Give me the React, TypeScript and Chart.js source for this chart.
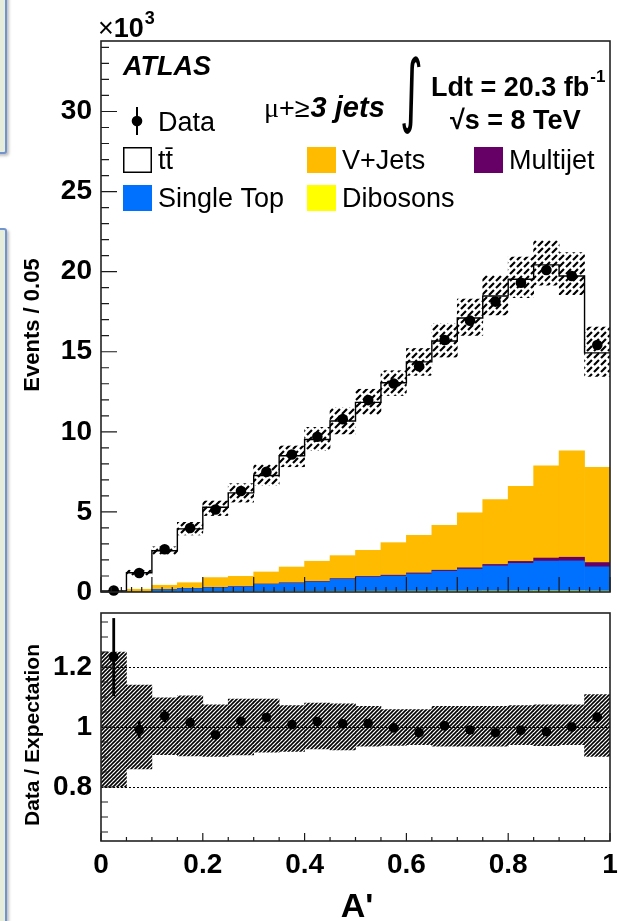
import React, { useEffect, useRef } from 'react';
import { Chart, registerables } from 'chart.js';

Chart.register(...registerables);

// ---- A' binning (20 bins of width 0.05) ----
const BIN_WIDTH = 0.05;
const binCenters = [
  0.025, 0.075, 0.125, 0.175, 0.225, 0.275, 0.325, 0.375, 0.425, 0.475,
  0.525, 0.575, 0.625, 0.675, 0.725, 0.775, 0.825, 0.875, 0.925, 0.975,
];

// ---- Events per bin, in units of 10^3 ----
const dataEvents = [
  0.09, 1.19, 2.67, 4.0, 5.15, 6.31, 7.5, 8.58, 9.69, 10.79,
  11.98, 13.02, 14.1, 15.73, 16.94, 18.13, 19.31, 20.1, 19.73, 15.42,
];
const dataStatErr = [
  0.0095, 0.035, 0.052, 0.063, 0.072, 0.079, 0.087, 0.093, 0.098, 0.104,
  0.109, 0.114, 0.119, 0.125, 0.13, 0.135, 0.139, 0.142, 0.14, 0.124,
];
const ttbar = [
  0.053, 1.03, 2.155, 3.36, 4.39, 5.21, 6.02, 6.95, 7.6, 8.41,
  9.24, 9.98, 10.83, 11.5, 12.17, 12.71, 12.93, 12.55, 10.92, 7.14,
];
const vJets = [
  0.008, 0.125, 0.26, 0.355, 0.615, 0.64, 0.75, 0.985, 1.26, 1.435,
  1.63, 2.03, 2.35, 2.81, 3.43, 4.05, 4.69, 5.755, 6.64, 5.95,
];
const multijet = [
  0.002, 0.005, 0.01, 0.015, 0.015, 0.02, 0.02, 0.025, 0.03, 0.035,
  0.04, 0.05, 0.06, 0.06, 0.08, 0.09, 0.12, 0.19, 0.23, 0.27,
];
const singleTop = [
  0.007, 0.03, 0.135, 0.19, 0.25, 0.295, 0.45, 0.515, 0.59, 0.755,
  0.88, 0.95, 1.075, 1.24, 1.37, 1.565, 1.725, 1.86, 1.87, 1.51,
];
const dibosons = [
  0.003, 0.01, 0.015, 0.02, 0.02, 0.025, 0.03, 0.035, 0.04, 0.045,
  0.05, 0.05, 0.055, 0.06, 0.06, 0.065, 0.065, 0.07, 0.07, 0.06,
];

// ---- Relative systematic uncertainty on the expectation ----
const systUp = [
  0.25, 0.14, 0.097, 0.104, 0.074, 0.093, 0.093, 0.071, 0.08, 0.077,
  0.069, 0.058, 0.058, 0.069, 0.069, 0.069, 0.071, 0.074, 0.074, 0.108,
];
const systDown = [
  0.2, 0.14, 0.092, 0.096, 0.098, 0.093, 0.084, 0.081, 0.073, 0.076,
  0.064, 0.061, 0.059, 0.064, 0.064, 0.064, 0.059, 0.062, 0.059, 0.098,
];

// ---- Tick labels ----
const eventsTicks = [0, 5, 10, 15, 20, 25, 30];
const ratioTicks = [0.8, 1, 1.2];
const aTicks = [0, 0.2, 0.4, 0.6, 0.8, 1];
const ratioRefLines = [0.8, 1, 1.2];

// ---- Layout ----
const W = 619;
const H = 921;
const FRAME_LEFT = 101;
const FRAME_RIGHT = 610;
const TOP_PANEL = { top: 41, bottom: 592, min: 0, max: 34.4 };
const RATIO_PANEL = { top: 613, bottom: 841, min: 0.62, max: 1.38 };

const SANS = '"Liberation Sans", Arial, Helvetica, sans-serif';
const SERIF = '"Liberation Serif", "Times New Roman", serif';

const COLORS = {
  dibosons: '#ffff00',
  singleTop: '#0070ff',
  multijet: '#660066',
  vJets: '#ffbb00',
  ttbar: '#ffffff',
};

const TTBAR_LABEL = 't\u0074\u0304';

// stacked bottom to top
const samples = [
  { label: 'Dibosons', values: dibosons, color: COLORS.dibosons },
  { label: 'Single Top', values: singleTop, color: COLORS.singleTop },
  { label: 'Multijet', values: multijet, color: COLORS.multijet },
  { label: 'V+Jets', values: vJets, color: COLORS.vJets },
  { label: TTBAR_LABEL, values: ttbar, color: COLORS.ttbar },
];

const expected = binCenters.map((_, i) => samples.reduce((s, p) => s + p.values[i], 0));
const ratio = dataEvents.map((d, i) => d / expected[i]);
const ratioErr = dataStatErr.map((e, i) => e / expected[i]);

// legend slots inside the upper panel
const legendSlots = [
  { label: TTBAR_LABEL, x: 123, y: 147 },
  { label: 'V+Jets', x: 307, y: 147 },
  { label: 'Multijet', x: 474, y: 147 },
  { label: 'Single Top', x: 123, y: 185 },
  { label: 'Dibosons', x: 307, y: 185 },
];

function makeHatch(period: number, lines: number, width: number, dash?: number[]) {
  const c = document.createElement('canvas');
  c.width = period;
  c.height = period;
  const g = c.getContext('2d')!;
  g.strokeStyle = '#000';
  g.lineWidth = width;
  if (dash) g.setLineDash(dash);
  const step = period / lines;
  for (let k = -lines; k <= 2 * lines; k++) {
    const c0 = k * step;
    g.beginPath();
    g.moveTo(c0 - period - 1, period + 1);
    g.lineTo(c0 + 1, -1);
    g.stroke();
  }
  return g.createPattern(c, 'repeat')!;
}

type TickSpec = { major: number; minor: number; majorLen: number; minorLen: number };

function frameTicks(xs: TickSpec, ys: TickSpec) {
  return {
    id: 'frameTicks',
    afterDraw(chart: any) {
      const { ctx, chartArea: a } = chart;
      const x = chart.scales.x;
      const y = chart.scales.y;
      const marks = (min: number, max: number, s: TickSpec, draw: (v: number, len: number) => void) => {
        const i0 = Math.ceil(min / s.minor - 1e-6);
        const i1 = Math.floor(max / s.minor + 1e-6);
        for (let i = i0; i <= i1; i++) {
          const v = i * s.minor;
          const r = v / s.major;
          draw(v, Math.abs(r - Math.round(r)) < 1e-6 ? s.majorLen : s.minorLen);
        }
      };
      ctx.save();
      ctx.strokeStyle = '#1a1a1a';
      ctx.lineWidth = 1.2;
      ctx.beginPath();
      marks(x.min, x.max, xs, (v, len) => {
        const px = x.getPixelForValue(v);
        ctx.moveTo(px, a.bottom);
        ctx.lineTo(px, a.bottom - len);
      });
      marks(y.min, y.max, ys, (v, len) => {
        const py = y.getPixelForValue(v);
        ctx.moveTo(a.left, py);
        ctx.lineTo(a.left + len, py);
      });
      ctx.stroke();
      ctx.lineWidth = 1.6;
      ctx.strokeStyle = '#222';
      ctx.strokeRect(a.left, a.top, a.right - a.left, a.bottom - a.top);
      ctx.restore();
    },
  };
}

function errorBars(datasetIndex: number, errs: number[], width: number) {
  return {
    id: 'errorBars',
    afterDatasetsDraw(chart: any) {
      const meta = chart.getDatasetMeta(datasetIndex);
      const y = chart.scales.y;
      const pts = chart.data.datasets[datasetIndex].data;
      const ctx = chart.ctx;
      ctx.save();
      ctx.strokeStyle = '#000';
      ctx.lineWidth = width;
      meta.data.forEach((el: any, i: number) => {
        const v = pts[i].y;
        ctx.beginPath();
        ctx.moveTo(el.x, y.getPixelForValue(v - errs[i]));
        ctx.lineTo(el.x, y.getPixelForValue(v + errs[i]));
        ctx.stroke();
      });
      ctx.restore();
    },
  };
}

function refLines(values: number[]) {
  return {
    id: 'refLines',
    beforeDatasetsDraw(chart: any) {
      const { ctx, chartArea: a } = chart;
      const y = chart.scales.y;
      ctx.save();
      ctx.strokeStyle = '#000';
      ctx.lineWidth = 1;
      ctx.setLineDash([2, 2]);
      values.forEach((v) => {
        const py = Math.round(y.getPixelForValue(v)) + 0.5;
        ctx.beginPath();
        ctx.moveTo(a.left, py);
        ctx.lineTo(a.right, py);
        ctx.stroke();
      });
      ctx.restore();
    },
  };
}

function drawRotated(ctx: CanvasRenderingContext2D, text: string, cx: number, cy: number, font: string) {
  ctx.save();
  ctx.translate(cx, cy);
  ctx.rotate(-Math.PI / 2);
  ctx.font = font;
  ctx.textAlign = 'center';
  ctx.textBaseline = 'middle';
  ctx.fillText(text, 0, 0);
  ctx.restore();
}

const upperAnnotations = {
  id: 'upperAnnotations',
  afterDraw(chart: any) {
    const ctx: CanvasRenderingContext2D = chart.ctx;
    ctx.save();
    ctx.fillStyle = '#000';
    ctx.textBaseline = 'alphabetic';
    ctx.textAlign = 'left';
    const put = (txt: string, x: number, y: number, font: string) => {
      ctx.font = font;
      ctx.fillText(txt, x, y);
      return ctx.measureText(txt).width;
    };

    // axis multiplier
    let x0 = 98;
    x0 += put('\u00d7', x0, 37, `27px ${SANS}`);
    x0 += put('10', x0, 37, `bold 27px ${SANS}`);
    put('3', x0 + 1, 24, `bold 18px ${SANS}`);

    put('ATLAS', 123, 75, `italic bold 27px ${SANS}`);

    // data legend entry
    ctx.strokeStyle = '#000';
    ctx.lineWidth = 2;
    ctx.beginPath();
    ctx.moveTo(137, 107);
    ctx.lineTo(137, 135);
    ctx.stroke();
    ctx.beginPath();
    ctx.arc(137, 121, 5.3, 0, Math.PI * 2);
    ctx.fill();
    put('Data', 158, 131, `27px ${SANS}`);

    // channel label
    let cx = 264;
    cx += put('\u03bc', cx, 117, `28px ${SERIF}`);
    cx += put('+\u2265', cx, 117, `27px ${SANS}`);
    put('3 jets', cx + 1, 117, `italic bold 29px ${SANS}`);

    // integral sign fitted into its box
    ctx.font = `80px "DejaVu Sans", ${SANS}`;
    const m = ctx.measureText('\u222b');
    const gw = m.actualBoundingBoxLeft + m.actualBoundingBoxRight;
    const gh = m.actualBoundingBoxAscent + m.actualBoundingBoxDescent;
    ctx.save();
    ctx.translate(402, 56);
    ctx.scale(19 / gw, 78 / gh);
    ctx.fillText('\u222b', m.actualBoundingBoxLeft, m.actualBoundingBoxAscent);
    ctx.restore();

    const lw = put('Ldt = 20.3 fb', 431, 96, `bold 27px ${SANS}`);
    put('-1', 431 + lw + 1, 82, `bold 17px ${SANS}`);
    put('\u221as = 8 TeV', 450, 129, `bold 27px ${SANS}`);

    // sample legend
    legendSlots.forEach((slot) => {
      const s = samples.find((p) => p.label === slot.label)!;
      ctx.fillStyle = s.color;
      ctx.fillRect(slot.x, slot.y, 29, 26);
      if (s.color === COLORS.ttbar) {
        ctx.strokeStyle = '#000';
        ctx.lineWidth = 1.5;
        ctx.strokeRect(slot.x + 0.75, slot.y + 0.75, 27.5, 24.5);
      }
      ctx.fillStyle = '#000';
      put(s.label, slot.x + 35, slot.y + 22, `27px ${SANS}`);
    });

    drawRotated(ctx, 'Events / 0.05', 33, 325, `bold 22px ${SANS}`);
    ctx.restore();
  },
};

const ratioAnnotations = {
  id: 'ratioAnnotations',
  afterDraw(chart: any) {
    const ctx: CanvasRenderingContext2D = chart.ctx;
    ctx.save();
    ctx.fillStyle = '#000';
    drawRotated(ctx, 'Data / Expectation', 33, 735, `bold 21px ${SANS}`);
    ctx.font = `bold 34px ${SANS}`;
    ctx.textAlign = 'center';
    ctx.textBaseline = 'alphabetic';
    ctx.fillText("A'", 357, 917);
    ctx.restore();
  },
};

const tickFont = { family: SANS, size: 28, weight: 'bold' as const };

function noPadX(s: any, height: number) {
  s.height = height;
  s.paddingLeft = 0;
  s.paddingRight = 0;
}
function noPadY(s: any) {
  s.width = FRAME_LEFT;
  s.paddingTop = 0;
  s.paddingBottom = 0;
}

export default function App() {
  const upperRef = useRef<HTMLCanvasElement>(null);
  const ratioRef = useRef<HTMLCanvasElement>(null);

  useEffect(() => {
    const upperHatch = makeHatch(7, 1, 2.2, [7, 2.9]);
    const ratioHatch = makeHatch(4, 1, 1.6);

    const lowEdges = binCenters.map((c) => c - BIN_WIDTH / 2);
    const stepPoints = [
      ...lowEdges.map((x, i) => ({ x, y: expected[i] })),
      { x: lowEdges[lowEdges.length - 1] + BIN_WIDTH, y: expected[expected.length - 1] },
    ];

    const barCommon = {
      type: 'bar' as const,
      borderWidth: 0,
      grouped: false,
      barPercentage: 1,
      categoryPercentage: 1,
    };

    const upperDatasets: any[] = [
      ...samples.map((s) => ({
        ...barCommon,
        label: s.label,
        data: s.values.map((v, i) => ({ x: binCenters[i], y: v })),
        backgroundColor: s.color,
        stack: 'mc',
        order: 10,
      })),
      {
        ...barCommon,
        label: 'Uncertainty',
        data: expected.map((t, i) => ({ x: binCenters[i], y: [t * (1 - systDown[i]), t * (1 + systUp[i])] })),
        backgroundColor: upperHatch,
        stack: 'band',
        order: 5,
      },
      {
        type: 'line',
        label: 'Expectation',
        data: stepPoints,
        stepped: 'before',
        borderColor: '#000',
        borderWidth: 1.4,
        pointRadius: 0,
        fill: false,
        stack: 'step',
        order: 3,
      },
      {
        type: 'line',
        label: 'Data',
        data: dataEvents.map((v, i) => ({ x: binCenters[i], y: v })),
        showLine: false,
        pointRadius: 5.3,
        pointBackgroundColor: '#000',
        pointBorderWidth: 0,
        stack: 'data',
        order: 1,
        clip: false,
      },
    ];
    const dataIndex = upperDatasets.length - 1;

    const upper = new Chart(upperRef.current!, {
      type: 'bar',
      data: { datasets: upperDatasets },
      options: {
        responsive: false,
        animation: false,
        devicePixelRatio: 1,
        events: [],
        layout: { padding: { left: 0, right: W - FRAME_RIGHT, top: TOP_PANEL.top, bottom: 0 } },
        plugins: { legend: { display: false }, tooltip: { enabled: false } },
        scales: {
          x: {
            type: 'linear',
            min: 0,
            max: 1,
            offset: false,
            grid: { display: false, drawTicks: false },
            border: { display: false },
            ticks: { display: false },
            afterFit: (s: any) => noPadX(s, H - TOP_PANEL.bottom),
          },
          y: {
            type: 'linear',
            stacked: true,
            min: TOP_PANEL.min,
            max: TOP_PANEL.max,
            grid: { display: false, drawTicks: false },
            border: { display: false },
            afterBuildTicks: (s: any) => {
              s.ticks = eventsTicks.map((value) => ({ value }));
            },
            ticks: { font: tickFont, color: '#000', padding: 9, autoSkip: false, callback: (v: any) => String(v) },
            afterFit: noPadY,
          },
        },
      } as any,
      plugins: [
        errorBars(dataIndex, dataStatErr, 2),
        frameTicks(
          { major: 0.1, minor: 0.02, majorLen: 15, minorLen: 5 },
          { major: 5, minor: 1, majorLen: 16, minorLen: 8 },
        ),
        upperAnnotations,
      ] as any,
    });

    const ratioDatasets: any[] = [
      {
        ...barCommon,
        label: 'Uncertainty',
        data: binCenters.map((x, i) => ({ x, y: [1 - systDown[i], 1 + systUp[i]] })),
        backgroundColor: ratioHatch,
        order: 5,
      },
      {
        type: 'line',
        label: 'Data / Expectation',
        data: ratio.map((r, i) => ({ x: binCenters[i], y: r })),
        showLine: false,
        pointRadius: 4.8,
        pointBackgroundColor: '#000',
        pointBorderWidth: 0,
        order: 1,
        clip: false,
      },
    ];

    const lower = new Chart(ratioRef.current!, {
      type: 'bar',
      data: { datasets: ratioDatasets },
      options: {
        responsive: false,
        animation: false,
        devicePixelRatio: 1,
        events: [],
        layout: { padding: { left: 0, right: W - FRAME_RIGHT, top: RATIO_PANEL.top, bottom: 0 } },
        plugins: { legend: { display: false }, tooltip: { enabled: false } },
        scales: {
          x: {
            type: 'linear',
            min: 0,
            max: 1,
            offset: false,
            grid: { display: false, drawTicks: false },
            border: { display: false },
            afterBuildTicks: (s: any) => {
              s.ticks = aTicks.map((value) => ({ value }));
            },
            ticks: { font: tickFont, color: '#000', padding: 7, autoSkip: false, maxRotation: 0, callback: (v: any) => String(v) },
            afterFit: (s: any) => noPadX(s, H - RATIO_PANEL.bottom),
          },
          y: {
            type: 'linear',
            min: RATIO_PANEL.min,
            max: RATIO_PANEL.max,
            grid: { display: false, drawTicks: false },
            border: { display: false },
            afterBuildTicks: (s: any) => {
              s.ticks = ratioTicks.map((value) => ({ value }));
            },
            ticks: { font: tickFont, color: '#000', padding: 9, autoSkip: false, callback: (v: any) => String(v) },
            afterFit: noPadY,
          },
        },
      } as any,
      plugins: [
        refLines(ratioRefLines),
        errorBars(1, ratioErr, 2.8),
        frameTicks(
          { major: 0.2, minor: 0.05, majorLen: 8, minorLen: 4 },
          { major: 0.2, minor: 0.05, majorLen: 13, minorLen: 7 },
        ),
        ratioAnnotations,
      ] as any,
    });

    return () => {
      upper.destroy();
      lower.destroy();
    };
  }, []);

  const edgeBox = (top: number, height: number): React.CSSProperties => ({
    position: 'absolute',
    left: -12,
    top,
    width: 15,
    height,
    background: '#e6eedb',
    border: '2px solid #7294cc',
    borderRadius: 3,
    boxShadow: '2px 2px 3px rgba(0,0,0,0.25)',
  });

  return (
    <div style={{ position: 'absolute', left: 0, top: 0, width: W, height: H, background: '#fff', overflow: 'hidden' }}>
      <div style={edgeBox(-10, 160)} />
      <div style={edgeBox(228, 720)} />
      <canvas ref={upperRef} width={W} height={H} style={{ position: 'absolute', left: 0, top: 0 }} />
      <canvas ref={ratioRef} width={W} height={H} style={{ position: 'absolute', left: 0, top: 0 }} />
    </div>
  );
}
